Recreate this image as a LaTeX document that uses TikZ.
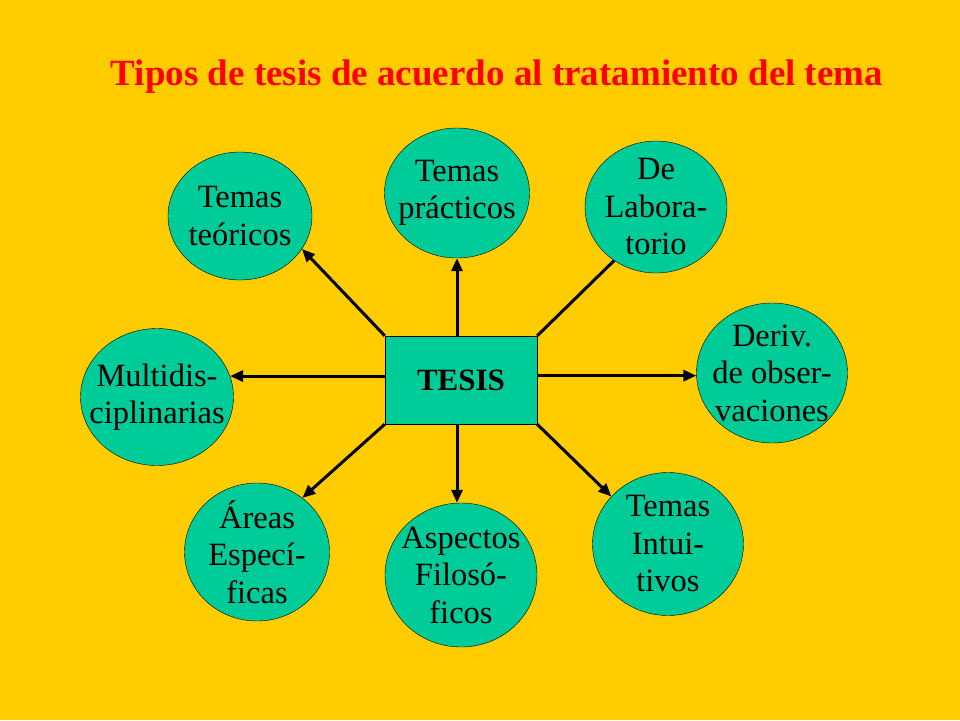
\documentclass[tikz,border=0pt]{standalone}
\usepackage{fontspec}
\setmainfont{Liberation Serif}
\usepackage{xcolor}
\definecolor{amarillo}{HTML}{FFCC00}
\definecolor{verde}{HTML}{00CC99}
\definecolor{rojo}{HTML}{FF0000}
\usetikzlibrary{shapes,arrows.meta,calc,positioning}
\tikzset{
    x=1pt,y=-1pt,
    texto/.style = {align=center, inner sep=0pt, font=\fontsize{32.5}{37.5}\selectfont},
    tema/.style ={ellipse, draw, fill=verde, inner sep=0pt, label={[texto]center:#1}},
    caja/.style ={rectangle, draw, fill=verde, minimum width=152pt, minimum height=88pt, font=\fontsize{31}{36}\selectfont\bfseries},
    flecha/.style = {-{Triangle[length=13pt,width=11pt]}, line width=3pt},
    linea/.style = {line width=3pt}
}
\begin{document}
\begin{tikzpicture}
      \fill[amarillo] (0,0) rectangle (960,720);
      \node[rojo, font=\fontsize{37}{42}\selectfont\bfseries] (titulo) at (497,77) {Tipos de tesis de acuerdo al tratamiento\ del tema};

      \node[caja] (tesis) at (461,380) {TESIS};

      \node[tema={Temas\\teóricos}, minimum width=144pt, minimum height=128pt] (teo) at (240,216) {};
      \node[tema={Temas\\prácticos}, minimum width=145pt, minimum height=130pt] (prac) at (457,193) {};
      \node[tema={De\\Labora-\\torio}, minimum width=142pt, minimum height=132pt] (lab) at (656,207) {};
      \node[tema={Deriv.\\de obser-\\vaciones}, minimum width=151pt, minimum height=140pt] (der) at (772,373) {};
      \node[tema={Multidis-\\ciplinarias}, minimum width=153pt, minimum height=137pt] (multi) at (157,397) {};
      \node[tema={Áreas\\Especí-\\ficas}, minimum width=145pt, minimum height=138pt] (areas) at (257,552) {};
      \node[tema={Aspectos\\Filosó-\\ficos}, minimum width=152pt, minimum height=144pt] (asp) at (461,575) {};
      \node[tema={Temas\\Intui-\\tivos}, minimum width=151pt, minimum height=143pt] (intu) at (668,544) {};

      % flechas desde la caja
      \draw[flecha] (tesis.north west) -- (teo.-28);
      \draw[flecha] (prac.south |- tesis.north) -- (prac.south);
      \draw[linea] (tesis.north east) -- (lab.232);
      \draw[flecha] (tesis.east |- der.182) -- (der.182);
      \draw[flecha] (tesis.west |- multi.16) -- (multi.16);
      \draw[flecha] (tesis.south west) -- (areas.50);
      \draw[flecha] (prac.south |- tesis.south) -- (prac.south |- asp.north);
      \draw[flecha] (tesis.south east) -- (intu.140);
\end{tikzpicture}
\end{document}
